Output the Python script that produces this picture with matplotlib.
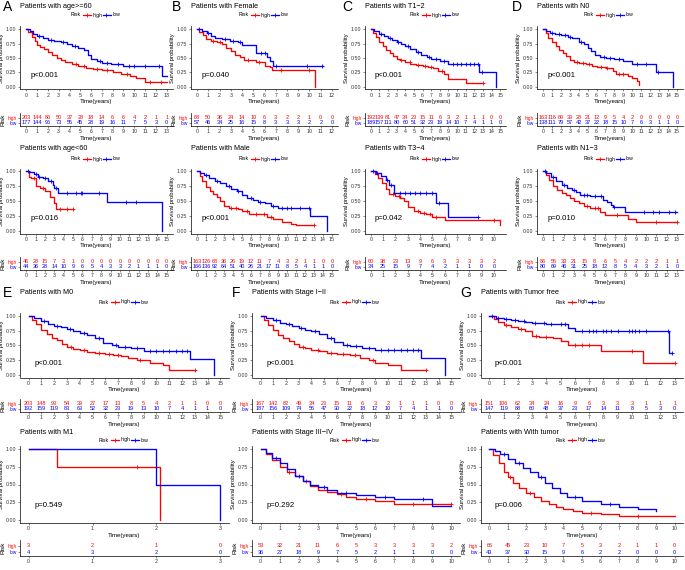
import numpy as np
import matplotlib.pyplot as plt

plt.rcParams['font.family'] = ['Liberation Sans', 'DejaVu Sans']

W, H = 685, 570
RED, BLUE = '#FF0000', '#0000FF'
GREY = '#333333'

# ---------------- data ----------------
# A: age>=60
age60_hi_t = [0, 0.2, 0.5, 0.8, 1.0, 1.3, 1.6, 2.0, 2.4, 2.8, 3.2, 3.6, 4.2, 4.8, 5.5, 6.2, 7.0, 8.0, 8.8, 9.6, 10.2, 11.0, 13.0]
age60_hi_s = [1.0, 0.95, 0.87, 0.79, 0.73, 0.69, 0.65, 0.61, 0.56, 0.50, 0.46, 0.43, 0.40, 0.37, 0.33, 0.31, 0.29, 0.26, 0.22, 0.19, 0.16, 0.08, 0.08]
age60_hi_c = [4.6, 5.3, 6.5, 7.5, 9.3, 11.5, 12.5]
age60_lo_t = [0, 0.3, 0.6, 1.0, 1.5, 2.0, 2.6, 3.2, 3.8, 4.2, 4.8, 5.3, 5.7, 6.0, 6.5, 7.0, 7.8, 9.0, 12.6, 13.0]
age60_lo_s = [1.0, 0.96, 0.92, 0.88, 0.85, 0.82, 0.80, 0.77, 0.74, 0.70, 0.68, 0.63, 0.56, 0.48, 0.45, 0.42, 0.40, 0.36, 0.18, 0.18]
age60_lo_c = [1.2, 2.3, 3.4, 4.5, 6.8, 7.5, 8.5, 9.5, 10.0, 11.0, 12.3]
age60_n_hi = [203, 144, 86, 50, 37, 28, 18, 14, 6, 6, 4, 2, 1, 1]
age60_n_lo = [177, 144, 96, 73, 55, 45, 28, 19, 16, 11, 7, 5, 3, 0]

# B: Female
fem_hi_t = [0, 0.2, 0.5, 0.8, 1.2, 1.8, 2.2, 2.6, 3.0, 3.4, 3.8, 4.2, 5.2, 6.0, 6.5, 6.7, 10.5]
fem_hi_s = [1.0, 0.95, 0.90, 0.83, 0.79, 0.77, 0.74, 0.68, 0.62, 0.56, 0.52, 0.46, 0.43, 0.37, 0.35, 0.29, 0.0]
fem_hi_c = [1.4, 2.0, 4.5, 5.5, 7.5, 10.0]
fem_lo_t = [0, 0.4, 0.9, 1.2, 1.6, 2.2, 2.9, 3.6, 4.0, 5.2, 6.2, 6.5, 6.8, 11.2]
fem_lo_s = [1.0, 0.97, 0.93, 0.88, 0.85, 0.83, 0.80, 0.77, 0.72, 0.59, 0.51, 0.44, 0.37, 0.37]
fem_lo_c = [0.2, 1.0, 2.5, 3.2, 3.8, 5.7, 6.0, 7.0, 9.8, 11.1]
fem_n_hi = [68, 50, 36, 24, 14, 10, 6, 3, 2, 2, 1, 0, 0]
fem_n_lo = [57, 46, 34, 25, 16, 15, 8, 3, 3, 3, 2, 2, 0]

# C: T1-2
t12_hi_t = [0, 0.3, 0.6, 1.0, 1.4, 1.8, 2.2, 2.6, 3.0, 3.4, 4.0, 4.6, 5.2, 6.0, 6.6, 7.2, 7.8, 8.5, 9.0, 11.0, 13.0]
t12_hi_s = [1.0, 0.94, 0.86, 0.77, 0.70, 0.64, 0.59, 0.53, 0.48, 0.46, 0.43, 0.40, 0.38, 0.36, 0.35, 0.33, 0.28, 0.22, 0.14, 0.06, 0.06]
t12_hi_c = [3.5, 4.5, 5.5, 6.3, 7.0, 8.2, 13.0]
t12_lo_t = [0, 0.4, 1.0, 1.5, 2.0, 2.5, 3.0, 3.5, 4.0, 4.6, 5.2, 5.8, 6.5, 7.0, 8.0, 9.0, 12.6, 14.5]
t12_lo_s = [1.0, 0.96, 0.92, 0.88, 0.85, 0.82, 0.77, 0.74, 0.70, 0.66, 0.60, 0.55, 0.51, 0.48, 0.45, 0.40, 0.25, 0.0]
t12_lo_c = [1.2, 2.2, 3.2, 4.3, 5.5, 6.8, 7.5, 8.5, 9.5, 10.0, 10.5, 11.0, 11.5, 12.0, 12.4, 12.9]
t12_n_hi = [192, 139, 81, 47, 34, 23, 15, 11, 6, 3, 2, 1, 1, 1, 0, 0]
t12_n_lo = [189, 157, 111, 80, 60, 51, 32, 23, 19, 14, 10, 7, 4, 1, 1, 0]

# D: N0
n0_hi_t = [0, 0.3, 0.6, 1.0, 1.4, 1.8, 2.2, 2.6, 3.0, 3.5, 4.0, 4.8, 5.5, 6.0, 7.0, 7.8, 8.2, 9.5, 10.0, 10.5, 10.8]
n0_hi_s = [1.0, 0.93, 0.85, 0.77, 0.70, 0.64, 0.58, 0.53, 0.47, 0.43, 0.42, 0.40, 0.37, 0.35, 0.32, 0.28, 0.22, 0.19, 0.15, 0.10, 0.03]
n0_hi_c = [3.8, 4.5, 5.2, 6.5, 7.2, 8.5, 9.0]
n0_lo_t = [0, 0.3, 0.8, 1.3, 2.0, 2.8, 3.3, 4.0, 4.6, 5.0, 5.4, 5.8, 6.4, 7.0, 8.0, 9.0, 10.0, 12.7, 14.5]
n0_lo_s = [1.0, 0.97, 0.94, 0.92, 0.90, 0.87, 0.84, 0.78, 0.74, 0.68, 0.62, 0.56, 0.52, 0.50, 0.48, 0.45, 0.40, 0.26, 0.0]
n0_lo_c = [1.0, 1.8, 2.5, 3.0, 4.2, 6.8, 7.5, 8.5, 10.5, 11.5, 12.9]
n0_n_hi = [163, 116, 69, 39, 28, 21, 12, 9, 5, 4, 2, 0, 0, 0, 0, 0]
n0_n_lo = [138, 111, 79, 57, 42, 37, 22, 18, 15, 10, 7, 6, 3, 1, 1, 0]

# age<60
age_y_hi_t = [0, 0.3, 0.5, 1.0, 1.5, 2.0, 2.5, 3.0, 3.2, 5.0]
age_y_hi_s = [1.0, 0.90, 0.88, 0.75, 0.72, 0.67, 0.57, 0.47, 0.37, 0.37]
age_y_hi_c = [0.8, 1.8, 3.6, 4.3, 5.0]
age_y_lo_t = [0, 0.3, 0.8, 1.2, 1.8, 2.3, 2.8, 3.0, 3.4, 8.6, 14.5]
age_y_lo_s = [1.0, 0.98, 0.95, 0.90, 0.88, 0.83, 0.77, 0.72, 0.64, 0.48, 0.0]
age_y_lo_c = [0.2, 1.0, 1.4, 2.0, 2.6, 3.2, 4.3, 5.3, 5.8, 6.0, 7.8, 10.6, 11.7]
age_y_n_hi = [46, 28, 15, 7, 3, 1, 0, 0, 0, 0, 0, 0, 0, 0, 0, 0]
age_y_n_lo = [44, 36, 28, 14, 10, 9, 6, 5, 4, 3, 3, 2, 1, 1, 1, 0]

# Male
male_hi_t = [0, 0.3, 0.6, 1.0, 1.4, 1.8, 2.2, 2.6, 3.0, 3.5, 4.5, 5.0, 5.8, 7.0, 7.8, 8.5, 9.5, 10.5, 11.0, 13.0]
male_hi_s = [1.0, 0.92, 0.84, 0.74, 0.66, 0.61, 0.56, 0.50, 0.42, 0.39, 0.37, 0.33, 0.29, 0.28, 0.24, 0.19, 0.15, 0.12, 0.09, 0.09]
male_hi_c = [3.8, 4.3, 5.5, 6.5, 7.4, 8.2, 13.0]
male_lo_t = [0, 0.3, 0.8, 1.3, 2.0, 2.6, 3.2, 3.8, 4.4, 5.0, 5.6, 6.2, 6.8, 7.5, 8.2, 9.0, 12.6, 14.5]
male_lo_s = [1.0, 0.97, 0.93, 0.88, 0.84, 0.80, 0.75, 0.70, 0.66, 0.60, 0.55, 0.52, 0.48, 0.46, 0.42, 0.38, 0.25, 0.0]
male_lo_c = [1.0, 2.2, 3.5, 4.6, 6.0, 7.0, 8.5, 9.5, 10.0, 10.5, 11.5, 12.4]
male_n_hi = [163, 126, 68, 36, 26, 19, 12, 11, 7, 4, 3, 2, 1, 1, 0, 0]
male_n_lo = [166, 136, 92, 64, 51, 40, 26, 21, 17, 11, 8, 5, 4, 1, 1, 0]

# T3-4
t34_hi_t = [0, 0.3, 0.6, 0.9, 1.2, 1.5, 2.0, 2.4, 2.7, 3.0, 3.5, 4.0, 4.5, 5.0, 6.0, 10.5]
t34_hi_s = [1.0, 0.95, 0.88, 0.80, 0.70, 0.61, 0.58, 0.55, 0.50, 0.40, 0.33, 0.30, 0.28, 0.23, 0.18, 0.10]
t34_hi_c = [1.8, 2.3, 3.8, 4.3, 4.8, 5.3, 10.0]
t34_lo_t = [0, 0.4, 0.8, 1.2, 1.5, 1.9, 5.3, 6.3, 8.7]
t34_lo_s = [1.0, 0.97, 0.92, 0.85, 0.77, 0.63, 0.47, 0.24, 0.24]
t34_lo_c = [0.2, 0.5, 1.3, 1.6, 2.4, 2.8, 3.2, 3.6, 4.0, 4.5, 5.0, 5.5, 8.7]
t34_n_hi = [60, 38, 23, 13, 9, 6, 3, 3, 3, 3, 2]
t34_n_lo = [34, 25, 15, 9, 7, 4, 2, 1, 1, 0, 0]

# N1-3
n13_hi_t = [0, 0.3, 0.6, 1.0, 1.4, 1.8, 2.2, 2.6, 3.0, 3.5, 4.0, 4.6, 5.5, 6.0, 8.2, 9.0, 13.0]
n13_hi_s = [1.0, 0.93, 0.85, 0.75, 0.68, 0.63, 0.60, 0.55, 0.50, 0.47, 0.42, 0.38, 0.32, 0.27, 0.20, 0.14, 0.14]
n13_hi_c = [4.3, 5.0, 5.3, 7.2, 11.0, 13.0]
n13_lo_t = [0, 0.3, 0.8, 1.3, 1.8, 2.3, 2.8, 3.2, 3.6, 4.6, 5.8, 6.2, 6.6, 6.8, 8.0, 13.0]
n13_lo_s = [1.0, 0.97, 0.90, 0.84, 0.76, 0.72, 0.68, 0.65, 0.60, 0.58, 0.52, 0.48, 0.43, 0.40, 0.32, 0.32]
n13_lo_c = [0.2, 1.0, 2.0, 3.0, 4.0, 4.3, 5.0, 5.6, 6.9, 9.8, 10.7, 11.3, 12.2, 12.8]
n13_n_hi = [86, 56, 33, 21, 15, 8, 6, 5, 4, 2, 2, 2, 1, 1]
n13_n_lo = [80, 69, 46, 31, 25, 18, 12, 8, 5, 4, 3, 2, 1, 0]

# E: M0
m0_hi_t = [0, 0.3, 0.6, 1.0, 1.4, 1.8, 2.2, 2.6, 3.0, 3.5, 4.0, 4.6, 5.2, 6.0, 6.6, 7.2, 7.8, 8.5, 9.5, 10.5, 11.0, 13.0]
m0_hi_s = [1.0, 0.93, 0.86, 0.77, 0.69, 0.63, 0.59, 0.53, 0.47, 0.44, 0.42, 0.39, 0.37, 0.35, 0.34, 0.32, 0.28, 0.25, 0.20, 0.16, 0.09, 0.09]
m0_hi_c = [3.3, 4.3, 5.5, 6.3, 7.0, 8.7, 13.0]
m0_lo_t = [0, 0.4, 1.0, 1.5, 2.0, 2.5, 3.0, 3.5, 4.0, 4.6, 5.2, 5.8, 6.5, 7.0, 8.0, 9.0, 12.6, 14.5]
m0_lo_s = [1.0, 0.96, 0.92, 0.87, 0.84, 0.81, 0.78, 0.75, 0.72, 0.68, 0.62, 0.55, 0.50, 0.48, 0.45, 0.41, 0.27, 0.0]
m0_lo_c = [1.2, 2.2, 3.2, 4.3, 5.5, 6.8, 7.5, 8.5, 9.5, 10.0, 10.5, 11.0, 11.5, 12.0, 12.4]
m0_n_hi = [203, 148, 93, 54, 39, 27, 17, 13, 8, 5, 4, 2, 1, 1, 0, 0]
m0_n_lo = [192, 159, 119, 83, 63, 52, 32, 23, 19, 13, 10, 7, 4, 1, 1, 0]

# F: Stage I-II
s12_hi_t = [0, 0.3, 0.6, 1.0, 1.4, 1.8, 2.2, 2.6, 3.0, 3.5, 4.0, 4.6, 5.2, 6.0, 7.0, 7.8, 8.5, 9.0, 10.0, 11.0, 13.0]
s12_hi_s = [1.0, 0.93, 0.85, 0.76, 0.68, 0.62, 0.57, 0.52, 0.47, 0.45, 0.43, 0.40, 0.37, 0.35, 0.33, 0.29, 0.25, 0.20, 0.16, 0.09, 0.09]
s12_hi_c = [3.3, 4.5, 5.5, 6.5, 7.4, 8.8, 13.0]
s12_lo_t = [0, 0.4, 1.0, 1.5, 2.0, 2.5, 3.0, 3.5, 4.0, 4.6, 5.2, 5.8, 6.5, 7.0, 8.0, 9.0, 12.6, 14.5]
s12_lo_s = [1.0, 0.97, 0.93, 0.89, 0.86, 0.83, 0.80, 0.77, 0.74, 0.70, 0.63, 0.56, 0.51, 0.49, 0.46, 0.42, 0.29, 0.0]
s12_lo_c = [1.2, 2.2, 3.2, 4.3, 5.5, 6.8, 7.5, 8.5, 9.5, 10.0, 10.5, 11.0, 11.5, 12.0, 12.4]
s12_n_hi = [167, 142, 82, 49, 34, 23, 15, 11, 6, 3, 2, 1, 1, 1, 0, 0]
s12_n_lo = [187, 156, 109, 74, 56, 47, 30, 22, 18, 12, 10, 7, 4, 1, 1, 0]

# G: Tumor free
tf_hi_t = [0, 0.3, 0.6, 1.0, 1.5, 2.0, 2.5, 3.0, 3.5, 4.5, 5.0, 5.5, 7.8, 10.8, 13.0]
tf_hi_s = [1.0, 0.95, 0.90, 0.85, 0.81, 0.78, 0.74, 0.67, 0.64, 0.62, 0.58, 0.50, 0.40, 0.20, 0.20]
tf_hi_c = [1.2, 2.2, 3.3, 4.0, 6.0, 6.5, 7.0, 10.0, 13.0]
tf_lo_t = [0, 0.5, 1.0, 1.5, 2.0, 2.5, 3.0, 3.5, 4.0, 4.5, 5.5, 6.0, 12.6, 12.8]
tf_lo_s = [1.0, 0.97, 0.95, 0.93, 0.92, 0.90, 0.89, 0.88, 0.87, 0.86, 0.80, 0.74, 0.37, 0.37]
tf_lo_c = [0.2, 0.6, 1.2, 1.8, 2.4, 3.2, 3.8, 4.3, 5.0, 5.3, 6.5, 7.0, 7.3, 7.5, 8.0, 8.2, 8.5, 9.0, 9.8, 10.0, 10.2, 10.5, 11.0, 12.5, 12.8]
tf_n_hi = [151, 106, 62, 34, 24, 16, 9, 6, 3, 3, 3, 1, 1, 1]
tf_n_lo = [147, 119, 88, 60, 48, 37, 23, 17, 14, 11, 8, 5, 3, 0]

# M1
m1_hi_t = [0, 0.45, 2.05]
m1_hi_s = [1.0, 0.75, 0.0]
m1_hi_c = [1.7]
m1_lo_t = [0, 2.0, 3.0]
m1_lo_s = [1.0, 0.5, 0.0]
m1_lo_c = []
m1_n_hi = [3, 2, 1, 0]
m1_n_lo = [4, 3, 2, 0]

# Stage III-IV
s34_hi_t = [0, 0.3, 0.6, 1.0, 1.4, 1.8, 2.2, 2.6, 3.0, 3.5, 4.0, 4.5, 5.0, 6.0, 7.0, 10.0]
s34_hi_s = [1.0, 0.93, 0.85, 0.75, 0.68, 0.62, 0.55, 0.48, 0.42, 0.40, 0.36, 0.33, 0.30, 0.27, 0.22, 0.22]
s34_hi_c = [1.5, 2.4, 4.2, 5.5, 8.0, 10.0]
s34_lo_t = [0, 0.3, 0.6, 1.0, 1.4, 1.8, 2.2, 2.6, 3.0, 3.5, 4.0, 5.0, 6.0, 7.0, 9.0, 10.0]
s34_lo_s = [1.0, 0.95, 0.88, 0.80, 0.72, 0.62, 0.55, 0.50, 0.46, 0.42, 0.38, 0.35, 0.32, 0.29, 0.20, 0.20]
s34_lo_c = [0.8, 2.0, 3.3, 4.5, 6.5, 8.5]
s34_n_hi = [53, 32, 21, 11, 6, 5, 3, 3, 3, 3, 2]
s34_n_lo = [36, 27, 18, 9, 7, 5, 2, 1, 1, 0, 0]

# With tumor
wt_hi_t = [0, 0.2, 0.5, 0.8, 1.0, 1.3, 1.6, 2.0, 2.4, 2.8, 3.2, 3.6, 4.0, 4.5, 5.0, 6.0, 7.0, 10.0]
wt_hi_s = [1.0, 0.92, 0.80, 0.68, 0.60, 0.52, 0.45, 0.38, 0.32, 0.27, 0.22, 0.18, 0.15, 0.12, 0.10, 0.08, 0.06, 0.06]
wt_hi_c = [1.1, 2.2, 5.5, 8.0]
wt_lo_t = [0, 0.3, 0.6, 1.0, 1.4, 1.8, 2.2, 2.6, 3.0, 3.4, 3.8, 4.2, 5.0, 6.0, 7.0, 8.0, 9.0]
wt_lo_s = [1.0, 0.97, 0.93, 0.86, 0.80, 0.74, 0.67, 0.60, 0.52, 0.45, 0.38, 0.32, 0.27, 0.22, 0.18, 0.15, 0.12]
wt_lo_c = [0.8, 1.6, 2.8, 4.6, 6.5]
wt_n_hi = [66, 45, 23, 10, 7, 5, 3, 2, 1, 1, 0]
wt_n_lo = [43, 37, 30, 15, 9, 6, 2, 2, 0, 0, 0]

# ---------------- layout (pixels) ----------------
top_cols = [(20, 173), (191, 338), (365, 506), (537, 683)]
top_letter_x = [3, 172, 342, 512]
bot_cols = [(20, 229), (252, 460), (481, 683)]
bot_letter_x = [3, 232, 460]

# row: (title y, legend y, km top, km bottom, risk top, risk bottom, risk xlabel)
rows = {
    1: (6, 15, 26.5, 89.5, 113, 126, True),
    2: (149, 159, 168.5, 233.5, 257, 270, True),
    3: (292, 302, 313.5, 377.5, 399, 412, True),
    4: (432, 440, 446, 523, 540, 556, False),
}

panels = [
    ('A', 'Patients with age>=60', 1, top_cols[0], top_letter_x[0], 13, 13,
     (age60_hi_t, age60_hi_s, age60_hi_c), (age60_lo_t, age60_lo_s, age60_lo_c), 'p<0.001', age60_n_hi, age60_n_lo),
    ('B', 'Patients with Female', 1, top_cols[1], top_letter_x[1], 12, 12,
     (fem_hi_t, fem_hi_s, fem_hi_c), (fem_lo_t, fem_lo_s, fem_lo_c), 'p=0.040', fem_n_hi, fem_n_lo),
    ('C', 'Patients with T1\u22122', 1, top_cols[2], top_letter_x[2], 15, 15,
     (t12_hi_t, t12_hi_s, t12_hi_c), (t12_lo_t, t12_lo_s, t12_lo_c), 'p<0.001', t12_n_hi, t12_n_lo),
    ('D', 'Patients with N0', 1, top_cols[3], top_letter_x[3], 15, 15,
     (n0_hi_t, n0_hi_s, n0_hi_c), (n0_lo_t, n0_lo_s, n0_lo_c), 'p<0.001', n0_n_hi, n0_n_lo),
    ('', 'Patients with age<60', 2, top_cols[0], top_letter_x[0], 15, 15,
     (age_y_hi_t, age_y_hi_s, age_y_hi_c), (age_y_lo_t, age_y_lo_s, age_y_lo_c), 'p=0.016', age_y_n_hi, age_y_n_lo),
    ('', 'Patients with Male', 2, top_cols[1], top_letter_x[1], 15, 15,
     (male_hi_t, male_hi_s, male_hi_c), (male_lo_t, male_lo_s, male_lo_c), 'p<0.001', male_n_hi, male_n_lo),
    ('', 'Patients with T3\u22124', 2, top_cols[2], top_letter_x[2], 10.5, 10,
     (t34_hi_t, t34_hi_s, t34_hi_c), (t34_lo_t, t34_lo_s, t34_lo_c), 'p=0.042', t34_n_hi, t34_n_lo),
    ('', 'Patients with N1\u22123', 2, top_cols[3], top_letter_x[3], 13, 13,
     (n13_hi_t, n13_hi_s, n13_hi_c), (n13_lo_t, n13_lo_s, n13_lo_c), 'p=0.010', n13_n_hi, n13_n_lo),
    ('E', 'Patients with M0', 3, bot_cols[0], bot_letter_x[0], 15, 15,
     (m0_hi_t, m0_hi_s, m0_hi_c), (m0_lo_t, m0_lo_s, m0_lo_c), 'p<0.001', m0_n_hi, m0_n_lo),
    ('F', 'Patients with Stage I\u2212II', 3, bot_cols[1], bot_letter_x[1], 15, 15,
     (s12_hi_t, s12_hi_s, s12_hi_c), (s12_lo_t, s12_lo_s, s12_lo_c), 'p<0.001', s12_n_hi, s12_n_lo),
    ('G', 'Patients with Tumor free', 3, bot_cols[2], bot_letter_x[2], 13, 13,
     (tf_hi_t, tf_hi_s, tf_hi_c), (tf_lo_t, tf_lo_s, tf_lo_c), 'p<0.001', tf_n_hi, tf_n_lo),
    ('', 'Patients with M1', 4, bot_cols[0], bot_letter_x[0], 3, 3,
     (m1_hi_t, m1_hi_s, m1_hi_c), (m1_lo_t, m1_lo_s, m1_lo_c), 'p=0.549', m1_n_hi, m1_n_lo),
    ('', 'Patients with Stage III\u2212IV', 4, bot_cols[1], bot_letter_x[1], 10, 10,
     (s34_hi_t, s34_hi_s, s34_hi_c), (s34_lo_t, s34_lo_s, s34_lo_c), 'p=0.292', s34_n_hi, s34_n_lo),
    ('', 'Patients with With tumor', 4, bot_cols[2], bot_letter_x[2], 10, 10,
     (wt_hi_t, wt_hi_s, wt_hi_c), (wt_lo_t, wt_lo_s, wt_lo_c), 'p=0.006', wt_n_hi, wt_n_lo),
]

fig = plt.figure(figsize=(W / 100, H / 100), dpi=100)


def add_ax(l, t, r, b):
    return fig.add_axes([l / W, 1 - b / H, (r - l) / W, (b - t) / H])


def fx(x):
    return x / W


def fy(y):
    return 1 - y / H


def style_axis(ax):
    for s in ['top', 'right']:
        ax.spines[s].set_visible(False)
    for s in ['left', 'bottom']:
        ax.spines[s].set_linewidth(0.5)
        ax.spines[s].set_color('black')
    ax.tick_params(length=1.5, width=0.4, pad=1, labelsize=3.8, colors=GREY)


def draw_legend(cx, cy):
    fig.text(fx(cx - 26), fy(cy), 'Risk', fontsize=3.7, va='center', ha='left', color='black')
    for x0, col, lab in [(cx - 14, RED, 'high'), (cx + 6, BLUE, 'low')]:
        fig.lines.append(plt.Line2D([fx(x0), fx(x0 + 8)], [fy(cy), fy(cy)], color=col, lw=0.9,
                                    transform=fig.transFigure))
        fig.lines.append(plt.Line2D([fx(x0 + 4)], [fy(cy)], color=col, marker='+', ms=2.8, mew=0.6,
                                    transform=fig.transFigure))
        fig.text(fx(x0 + 10), fy(cy), lab, fontsize=3.7, va='center', ha='left', color='black')


for (letter, title, row, (l, r), lx, xmax, tmax, hi, lo, ptxt, n_hi, n_lo) in panels:
    ty, ly, kt, kb, rt, rb, rxlab = rows[row]
    xlim = (-0.045 * xmax, xmax * 1.045)
    ticks = np.arange(0, tmax + 1)

    if letter:
        fig.text(fx(lx), fy(ty + 5), letter, fontsize=10, ha='left', va='baseline')
    fig.text(fx(l), fy(ty), title, fontsize=5.2, ha='left', va='center')
    draw_legend((l + r) / 2, ly)

    # survival curves
    ax = add_ax(l, kt, r, kb)
    style_axis(ax)
    for (t, s, c), col in [(hi, RED), (lo, BLUE)]:
        t = np.array(t)
        s = np.array(s)
        ax.step(t, s, where='post', color=col, lw=0.95)
        if len(c):
            c = np.array(c)
            cs = s[np.searchsorted(t, c, side='right') - 1]
            ax.plot(c, cs, '+', color=col, ms=2.8, mew=0.6)
    ax.set_xlim(*xlim)
    ax.set_ylim(-0.045, 1.045)
    ax.set_xticks(ticks)
    ax.set_yticks([0, 0.25, 0.5, 0.75, 1.0])
    ax.set_yticklabels(['0.00', '0.25', '0.50', '0.75', '1.00'])
    ax.set_xlabel('Time(years)', fontsize=4.4, labelpad=1)
    ax.set_ylabel('Survival probability', fontsize=4.2, labelpad=1.5)
    ax.text(xmax * 0.03, 0.2, ptxt, fontsize=5.6, ha='left', va='center')

    # risk table
    rx = add_ax(l, rt, r, rb)
    style_axis(rx)
    rx.set_xlim(*xlim)
    rx.set_ylim(0, 1)
    rx.set_xticks(ticks)
    rx.set_yticks([0.65, 0.25])
    rx.set_yticklabels(['high', 'low'])
    for lab, col in zip(rx.get_yticklabels(), [RED, BLUE]):
        lab.set_color(col)
    rx.tick_params(axis='y', labelsize=3.4, length=1.5)
    rx.set_ylabel('Risk', fontsize=4.6, labelpad=1.5)
    for i, (a, b) in enumerate(zip(n_hi, n_lo)):
        rx.text(i, 0.65, str(a), color=RED, fontsize=4, ha='center', va='center')
        rx.text(i, 0.25, str(b), color=BLUE, fontsize=4, ha='center', va='center')
    if rxlab:
        rx.set_xlabel('Time(years)', fontsize=4.4, labelpad=1)

fig.savefig('out.png', dpi=100, facecolor='white')
